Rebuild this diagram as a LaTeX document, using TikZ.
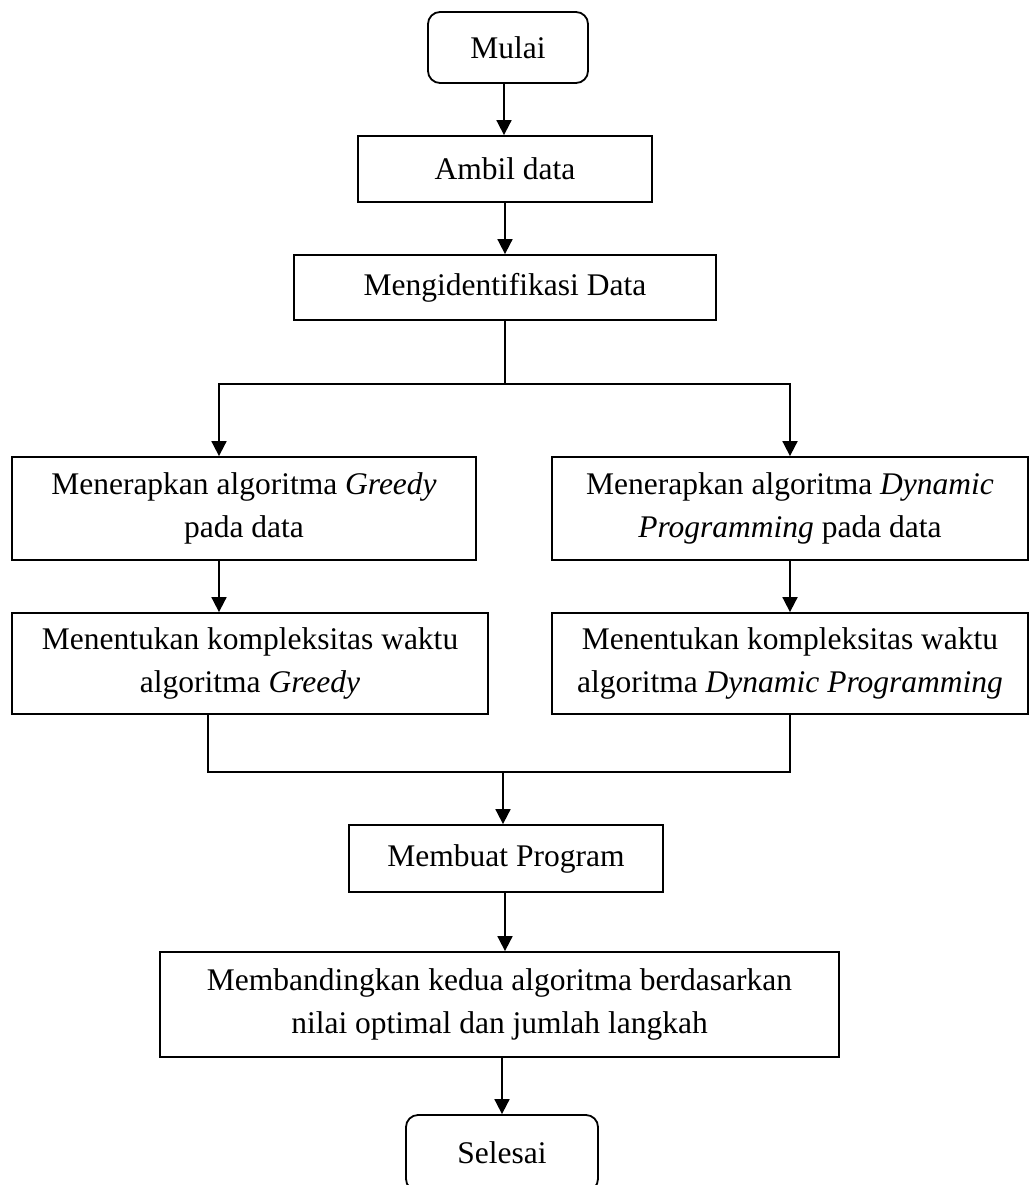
\documentclass[tikz,border=0pt]{standalone}
\usepackage{fontspec}
\setmainfont{Liberation Serif}
\usetikzlibrary{arrows.meta,positioning,calc}

\begin{document}
\begin{tikzpicture}[x=1pt,y=-1pt,line width=1.8pt,
  font=\fontsize{31.5}{43}\selectfont,
  box/.style={draw,align=center,inner sep=0pt},
  term/.style={box,rounded corners=12pt},
  arr/.style={-{Triangle[length=15pt,width=15pt]}}]
  \clip (0,0) rectangle (1029,1185);
  % Start and first steps
  \node[term,minimum width=160pt,minimum height=71pt] (mulai) at (508,47.5) {Mulai};
  \node[box,minimum width=294pt,minimum height=66pt] (ambil) at (505,169) {Ambil data};
  \node[box,minimum width=422pt,minimum height=65pt] (ident) at (505,287.5) {Mengidentifikasi Data};
  % Two branches
  \node[box,minimum width=464pt,minimum height=103pt] (greedy1) at (244,508.5)
    {Menerapkan algoritma \textit{Greedy}\\pada data};
  \node[box,minimum width=476pt,minimum height=103pt] (dp1) at (790,508.5)
    {Menerapkan algoritma \textit{Dynamic}\\\textit{Programming} pada data};
  \node[box,minimum width=476pt,minimum height=101pt] (greedy2) at (250,663.5)
    {Menentukan kompleksitas waktu\\algoritma \textit{Greedy}};
  \node[box,minimum width=476pt,minimum height=101pt] (dp2) at (790,663.5)
    {Menentukan kompleksitas waktu\\algoritma \textit{Dynamic Programming}};
  % Last steps
  \node[box,minimum width=314pt,minimum height=67pt] (program) at (506,858.5) {Membuat Program};
  \node[box,minimum width=679pt,minimum height=105pt] (banding) at (499.5,1004.5)
    {Membandingkan kedua algoritma berdasarkan\\nilai optimal dan jumlah langkah};
  \node[term,minimum width=192pt,minimum height=76pt] (selesai) at (502,1153) {Selesai};
  % Connectors
  \coordinate (split) at (505,384);
  \coordinate (merge) at (503,772);
  \draw[arr] ([xshift=-4pt]mulai.south) -- ([xshift=-4pt]mulai.south |- ambil.north);
  \draw[arr] (ambil) -- (ident);
  \draw (ident.south) -- (split);
  \draw[arr] (split) -| ([xshift=-25pt]greedy1.north);
  \draw[arr] (split) -| (dp1.north);
  \draw[arr] ([xshift=-25pt]greedy1.south) -- ([xshift=-25pt]greedy1.south |- greedy2.north);
  \draw[arr] (dp1) -- (dp2);
  \draw ([xshift=-42pt]greedy2.south) |- (merge) -| (dp2.south);
  \draw[arr] (merge) -- (merge |- program.north);
  \draw[arr] ([xshift=-1pt]program.south) -- ([xshift=-1pt]program.south |- banding.north);
  \draw[arr] (selesai.north |- banding.south) -- (selesai.north);
\end{tikzpicture}
\end{document}
